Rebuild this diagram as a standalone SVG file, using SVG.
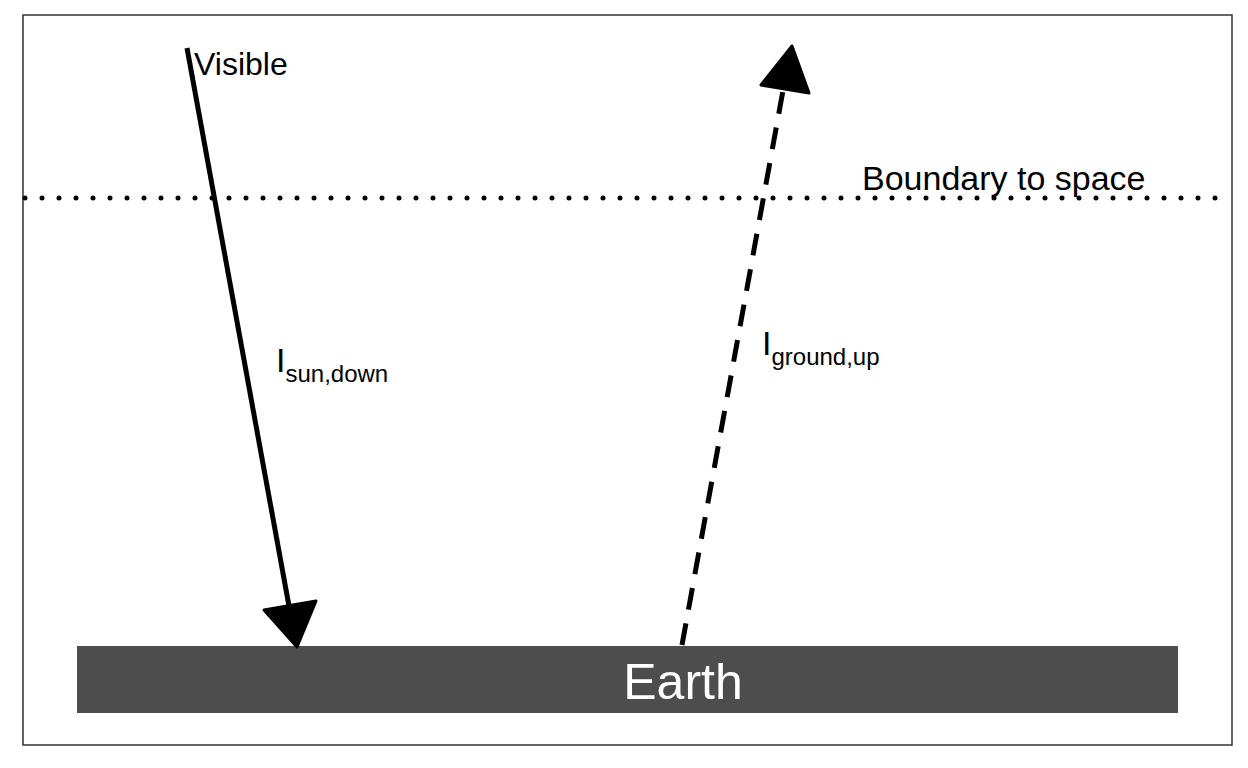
<svg xmlns="http://www.w3.org/2000/svg" width="1248" height="768" viewBox="0 0 1248 768">
<style>
text{font-family:"Liberation Sans",Arial,sans-serif;fill:#000}
.ln{stroke:#000;stroke-width:5;fill:none}
</style>
<rect width="1248" height="768" fill="#fff"/>
<rect x="23" y="15" width="1209" height="730" fill="none" stroke="#333" stroke-width="1.5"/>
<g id="boundary">
<line x1="25" y1="198" x2="1232" y2="198" stroke="#000" stroke-width="5" stroke-dasharray="0 17" stroke-linecap="round"/>
<text x="862" y="190" font-size="34">Boundary to space</text>
</g>
<g id="earth">
<rect x="77" y="646" width="1101" height="67" fill="#4d4d4d"/>
<text x="683" y="699" font-size="50" text-anchor="middle" style="fill:#fff">Earth</text>
</g>
<g id="connectors">
<line class="ln" x1="187" y1="48" x2="289" y2="606"/>
<polygon points="297,647 264,610 316,601" stroke="#000" stroke-width="3" stroke-linejoin="round"/>
<line class="ln" x1="682" y1="645" x2="784" y2="85" stroke-dasharray="22 14"/>
<polygon points="792,46 761,85 809,93" stroke="#000" stroke-width="3" stroke-linejoin="round"/>
</g>
<g id="labels">
<text x="194" y="75" font-size="32">Visible</text>
<text x="276" y="372" font-size="34">I<tspan font-size="24" dy="10">sun,down</tspan></text>
<text x="762" y="355" font-size="34">I<tspan font-size="24" dy="10">ground,up</tspan></text>
</g>
</svg>
